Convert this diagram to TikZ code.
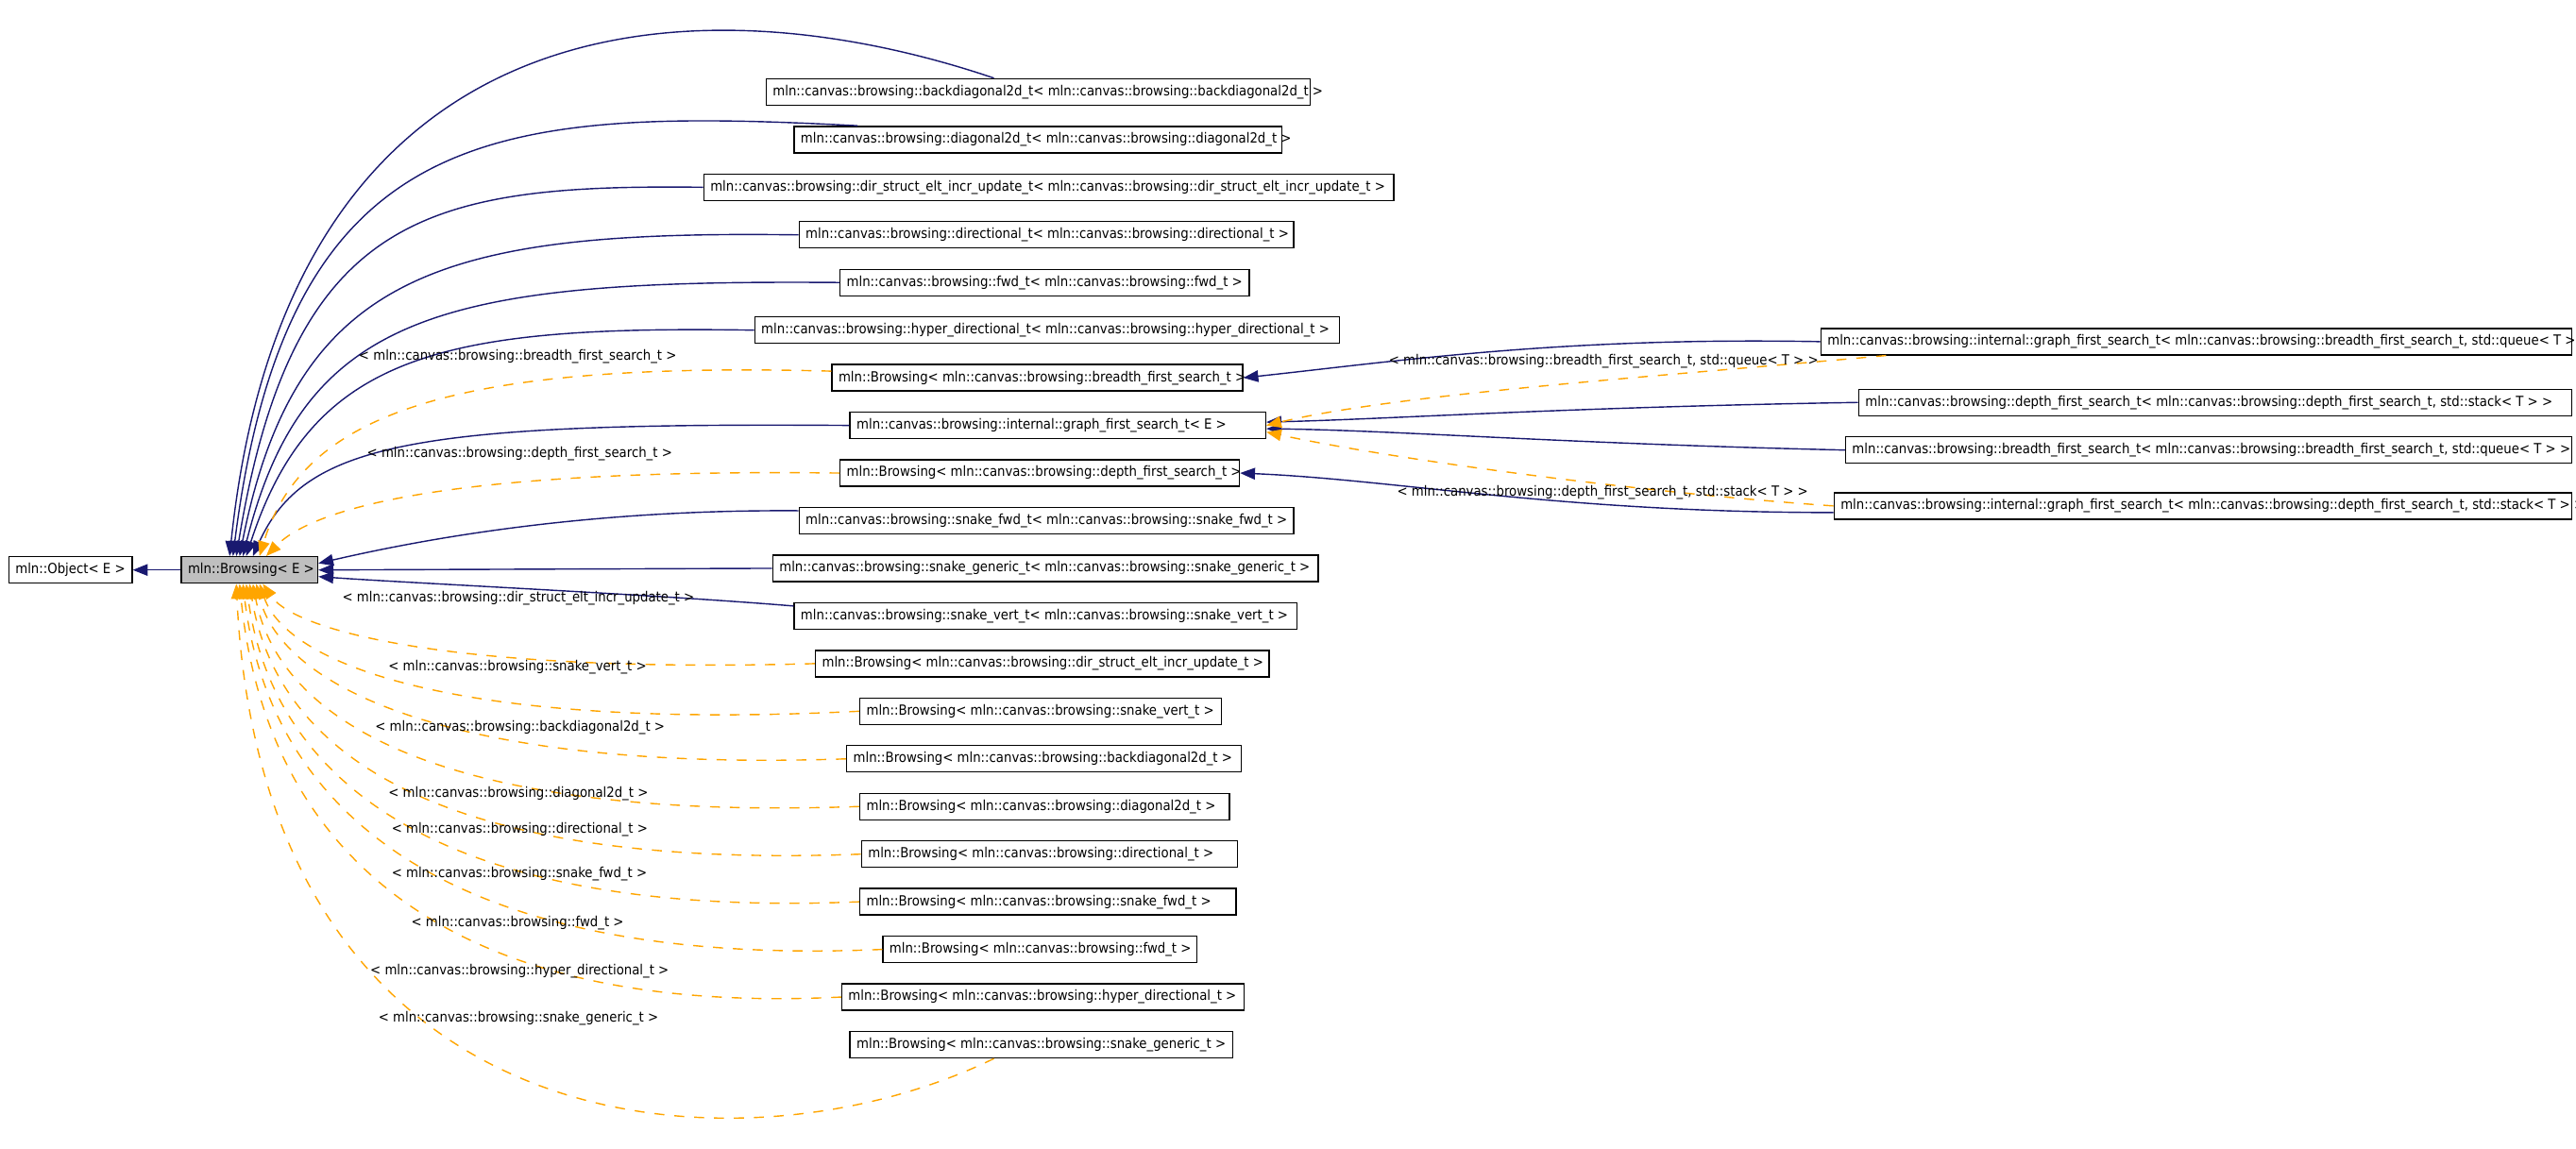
\documentclass[tikz,border=0pt]{standalone}
\usepackage{fontspec}
\setmainfont{DejaVu Sans Condensed}
\usetikzlibrary{arrows.meta}
\definecolor{edgeblue}{RGB}{25,25,112}
\definecolor{tmplorange}{RGB}{255,165,0}
\tikzset{
  clsbox/.style={draw=black, line width=0.4pt, inner sep=0pt, minimum height=0.28cm, anchor=west},
  clstext/.style={font=\fontsize{4.2}{5}\selectfont, inner sep=0pt, anchor=west},
  edgelbl/.style={font=\fontsize{4.2}{5}\selectfont, inner sep=0pt, anchor=west},
  inherit/.style={draw=edgeblue, line width=0.4pt, -{Triangle[length=4.5pt,width=3.5pt]}},
  instance/.style={draw=tmplorange, line width=0.4pt, dashed, -{Triangle[length=4.5pt,width=3.5pt]}},
}
% box from left to right at height y, text starting at the left edge
\newcommand\clsnode[5]{%
  \node[clsbox, minimum width={(#3-#2)*0.0174cm}] (#1) at (#2,#4) {};
  \node[clstext] (#1-t) at (#2+4,#4) {#5};}
\begin{document}
\begin{tikzpicture}[x=0.0174cm, y=-0.0174cm]
  \useasboundingbox (0,0) rectangle (1568,699.5);

  % base classes
  \clsnode{object}{5}{80}{347}{mln::Object< E >}
  \node[clsbox, fill=black!25, minimum width={83*0.0174cm}] (browsing) at (110,347) {};
  \node[clstext] (browsing-t) at (114,347) {mln::Browsing< E >};

  % derived classes
  \clsnode{backdiag}{466}{797}{56}{mln::canvas::browsing::backdiagonal2d\_t< mln::canvas::browsing::backdiagonal2d\_t >}
  \clsnode{diag}{483}{780}{85}{mln::canvas::browsing::diagonal2d\_t< mln::canvas::browsing::diagonal2d\_t >}
  \clsnode{dirstruct}{428}{848}{114}{mln::canvas::browsing::dir\_struct\_elt\_incr\_update\_t< mln::canvas::browsing::dir\_struct\_elt\_incr\_update\_t >}
  \clsnode{directional}{486}{787}{143}{mln::canvas::browsing::directional\_t< mln::canvas::browsing::directional\_t >}
  \clsnode{fwd}{511}{760}{172}{mln::canvas::browsing::fwd\_t< mln::canvas::browsing::fwd\_t >}
  \clsnode{hyper}{459}{815}{201}{mln::canvas::browsing::hyper\_directional\_t< mln::canvas::browsing::hyper\_directional\_t >}
  \clsnode{bbfs}{506}{756}{230}{mln::Browsing< mln::canvas::browsing::breadth\_first\_search\_t >}
  \clsnode{graphfs}{517}{770}{259}{mln::canvas::browsing::internal::graph\_first\_search\_t< E >}
  \clsnode{bdfs}{511}{754}{288}{mln::Browsing< mln::canvas::browsing::depth\_first\_search\_t >}
  \clsnode{snakefwd}{486}{787}{317}{mln::canvas::browsing::snake\_fwd\_t< mln::canvas::browsing::snake\_fwd\_t >}
  \clsnode{snakegen}{470}{802}{346}{mln::canvas::browsing::snake\_generic\_t< mln::canvas::browsing::snake\_generic\_t >}
  \clsnode{snakevert}{483}{789}{375}{mln::canvas::browsing::snake\_vert\_t< mln::canvas::browsing::snake\_vert\_t >}
  \clsnode{bdirstruct}{496}{772}{404}{mln::Browsing< mln::canvas::browsing::dir\_struct\_elt\_incr\_update\_t >}
  \clsnode{bsnakevert}{523}{743}{433}{mln::Browsing< mln::canvas::browsing::snake\_vert\_t >}
  \clsnode{bbackdiag}{515}{755}{462}{mln::Browsing< mln::canvas::browsing::backdiagonal2d\_t >}
  \clsnode{bdiag}{523}{748}{491}{mln::Browsing< mln::canvas::browsing::diagonal2d\_t >}
  \clsnode{bdirectional}{524}{753}{520}{mln::Browsing< mln::canvas::browsing::directional\_t >}
  \clsnode{bsnakefwd}{523}{752}{549}{mln::Browsing< mln::canvas::browsing::snake\_fwd\_t >}
  \clsnode{bfwd}{537}{728}{578}{mln::Browsing< mln::canvas::browsing::fwd\_t >}
  \clsnode{bhyper}{512}{757}{607}{mln::Browsing< mln::canvas::browsing::hyper\_directional\_t >}
  \clsnode{bsnakegen}{517}{750}{636}{mln::Browsing< mln::canvas::browsing::snake\_generic\_t >}

  % search classes
  \clsnode{graphbfs}{1108}{1565}{208}{mln::canvas::browsing::internal::graph\_first\_search\_t< mln::canvas::browsing::breadth\_first\_search\_t, std::queue< T > >}
  \clsnode{dfs}{1131}{1565}{245}{mln::canvas::browsing::depth\_first\_search\_t< mln::canvas::browsing::depth\_first\_search\_t, std::stack< T > >}
  \clsnode{bfs}{1123}{1565}{274}{mln::canvas::browsing::breadth\_first\_search\_t< mln::canvas::browsing::breadth\_first\_search\_t, std::queue< T > >}
  \clsnode{graphdfs}{1116}{1565}{308}{mln::canvas::browsing::internal::graph\_first\_search\_t< mln::canvas::browsing::depth\_first\_search\_t, std::stack< T > >}

  % inheritance
  \draw[inherit] (browsing) -- (object);
  \draw[inherit] ([xshift={139*0.0174cm}]backdiag.north west) .. controls (420,-15) and (175,0) .. ([xshift=-6pt]browsing.north);
  \draw[inherit] ([xshift={39*0.0174cm}]diag.north west) .. controls (300,65) and (175,75) .. ([xshift=-5pt]browsing.north);
  \draw[inherit] (dirstruct.west) .. controls (260,112) and (178,130) .. ([xshift=-4pt]browsing.north);
  \draw[inherit] (directional.west) .. controls (270,140) and (180,165) .. ([xshift=-3pt]browsing.north);
  \draw[inherit] (fwd.west) .. controls (270,170) and (185,190) .. ([xshift=-2pt]browsing.north);
  \draw[inherit] (hyper.west) .. controls (270,198) and (190,215) .. ([xshift=-1pt]browsing.north);
  \draw[inherit] (graphfs.west) .. controls (250,257) and (185,270) .. ([xshift=1pt]browsing.north);
  \draw[inherit] ([yshift=3pt]snakefwd.west) .. controls (350,310) and (250,330) .. ([yshift=2pt]browsing.east);
  \draw[inherit] (snakegen.west) -- (browsing.east);
  \draw[inherit] ([yshift=3pt]snakevert.west) .. controls (400,362) and (250,355) .. ([yshift=-2pt]browsing.east);
  \draw[inherit] (graphbfs.west) .. controls (950,205) and (850,220) .. (bbfs.east);
  \draw[inherit] (dfs.west) .. controls (950,248) and (850,255) .. ([yshift=1pt]graphfs.east);
  \draw[inherit] (bfs.west) .. controls (950,270) and (850,262) .. ([yshift=-1pt]graphfs.east);
  \draw[inherit] ([yshift=-2pt]graphdfs.west) .. controls (950,312) and (850,292) .. (bdfs.east);

  % template instances
  \draw[instance] ([yshift=2pt]bbfs.west) .. controls (280,220) and (185,250) .. ([xshift=3pt]browsing.north);
  \draw[instance] (bdfs.west) .. controls (270,285) and (190,310) .. ([xshift=5pt]browsing.north);
  \draw[instance] (bdirstruct.west) .. controls (280,410) and (180,385) .. ([xshift=4pt]browsing.south);
  \draw[instance] (bsnakevert.west) .. controls (280,445) and (175,405) .. ([xshift=3pt]browsing.south);
  \draw[instance] (bbackdiag.west) .. controls (280,470) and (172,420) .. ([xshift=2pt]browsing.south);
  \draw[instance] (bdiag.west) .. controls (270,500) and (170,440) .. ([xshift=1pt]browsing.south);
  \draw[instance] (bdirectional.west) .. controls (260,530) and (168,455) .. (browsing.south);
  \draw[instance] (bsnakefwd.west) .. controls (260,560) and (165,470) .. ([xshift=-1pt]browsing.south);
  \draw[instance] (bfwd.west) .. controls (260,590) and (163,485) .. ([xshift=-2pt]browsing.south);
  \draw[instance] (bhyper.west) .. controls (250,620) and (160,500) .. ([xshift=-3pt]browsing.south);
  \draw[instance] ([xshift={88*0.0174cm}]bsnakegen.south west) .. controls (450,720) and (160,700) .. ([xshift=-4pt]browsing.south);
  \draw[instance] ([xshift={40*0.0174cm}]graphbfs.south west) .. controls (1000,230) and (850,240) .. (graphfs.east);
  \draw[instance] (graphdfs.west) .. controls (1000,300) and (850,280) .. ([yshift=-2pt]graphfs.east);

  % instance labels
  \node[edgelbl] (l-bbfs) at (218,217) {< mln::canvas::browsing::breadth\_first\_search\_t >};
  \node[edgelbl] (l-bdfs) at (223,276) {< mln::canvas::browsing::depth\_first\_search\_t >};
  \node[edgelbl] (l-bdirstruct) at (208,364) {< mln::canvas::browsing::dir\_struct\_elt\_incr\_update\_t >};
  \node[edgelbl] (l-bsnakevert) at (236,406) {< mln::canvas::browsing::snake\_vert\_t >};
  \node[edgelbl] (l-bbackdiag) at (228,443) {< mln::canvas::browsing::backdiagonal2d\_t >};
  \node[edgelbl] (l-bdiag) at (236,483) {< mln::canvas::browsing::diagonal2d\_t >};
  \node[edgelbl] (l-bdirectional) at (238,505) {< mln::canvas::browsing::directional\_t >};
  \node[edgelbl] (l-bsnakefwd) at (238,532) {< mln::canvas::browsing::snake\_fwd\_t >};
  \node[edgelbl] (l-bfwd) at (250,562) {< mln::canvas::browsing::fwd\_t >};
  \node[edgelbl] (l-bhyper) at (225,591) {< mln::canvas::browsing::hyper\_directional\_t >};
  \node[edgelbl] (l-bsnakegen) at (230,620) {< mln::canvas::browsing::snake\_generic\_t >};
  \node[edgelbl] (l-graphbfs) at (845,220) {< mln::canvas::browsing::breadth\_first\_search\_t, std::queue< T > >};
  \node[edgelbl] (l-graphdfs) at (850,300) {< mln::canvas::browsing::depth\_first\_search\_t, std::stack< T > >};
\end{tikzpicture}
\end{document}
